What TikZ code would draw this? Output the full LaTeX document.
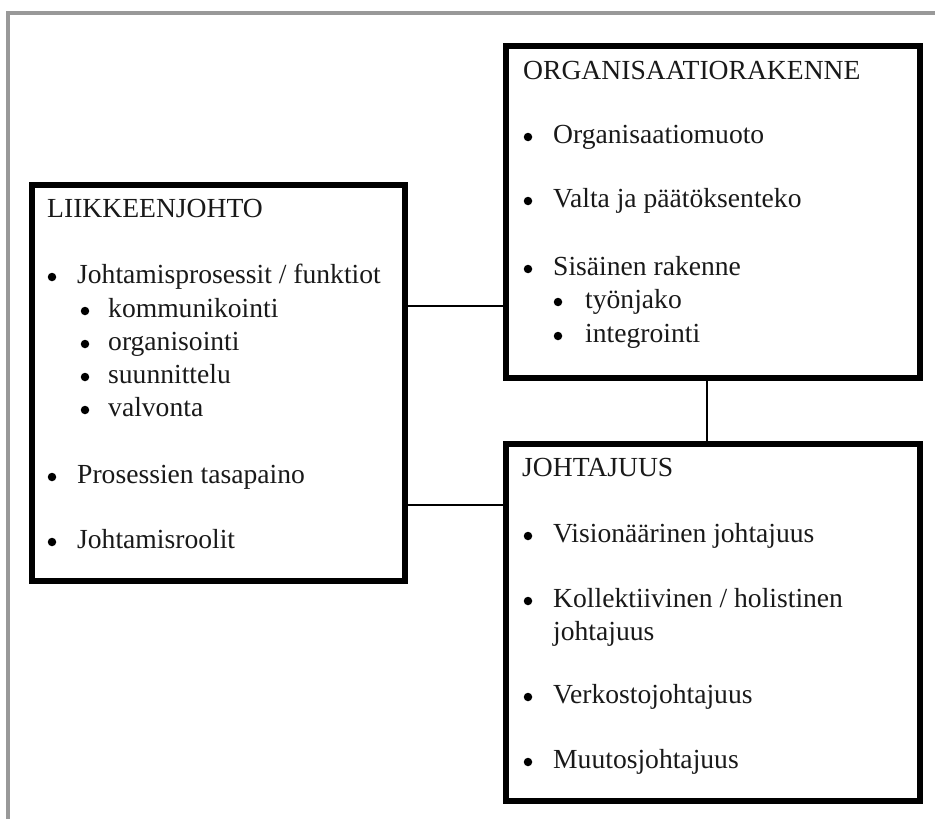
\documentclass[tikz,border=0pt]{standalone}
\usepackage{fontspec}
\setmainfont{Liberation Serif}
\begin{document}
\begin{tikzpicture}[x=1bp,y=-1bp,
  box/.style={draw=black, line width=6bp, inner sep=0pt},
  link/.style={draw=black, line width=1.5bp},
  frameline/.style={draw=black!40, line width=4bp},
  txt/.style={anchor=base west, inner sep=0pt, text=black!90, font=\fontsize{27.6bp}{33bp}\selectfont},
  bul/.style={circle, fill=black, draw=none, inner sep=0pt, minimum size=8.5bp}]
\useasboundingbox (0,0) rectangle (935,819);
% gray frame
\coordinate (f0) at (8,819);
\coordinate (f1) at (8,13);
\coordinate (f2) at (935,13);
\draw[frameline] (f0) -- (f1) -- (f2);
% boxes
\node[box, minimum width=373bp, minimum height=396bp] (L) at (218.5,383) {};
\node[box, minimum width=414bp, minimum height=332bp] (TR) at (713,212) {};
\node[box, minimum width=414bp, minimum height=357bp] (BR) at (713,622.5) {};
% connectors
\coordinate (c1) at (0,306);
\coordinate (c2) at (0,505);
\coordinate (c3) at (707,0);
\draw[link] (c1 -| L.east) -- (c1 -| TR.west);
\draw[link] (c2 -| L.east) -- (c2 -| BR.west);
\draw[link] (c3 |- TR.south) -- (c3 |- BR.north);
% left box text
\node[txt] (l0) at (47,217) {LIIKKEENJOHTO};
\node[bul] (lb1) at (52,277) {};
\node[txt] (l1) at (77,283) {Johtamisprosessit / funktiot};
\node[bul] (lb2) at (85,311) {};
\node[txt] (l2) at (108,317) {kommunikointi};
\node[bul] (lb3) at (85,344) {};
\node[txt] (l3) at (108,350) {organisointi};
\node[bul] (lb4) at (85,377) {};
\node[txt] (l4) at (108,383) {suunnittelu};
\node[bul] (lb5) at (85,410) {};
\node[txt] (l5) at (108,416) {valvonta};
\node[bul] (lb6) at (52,477) {};
\node[txt] (l6) at (77,483) {Prosessien tasapaino};
\node[bul] (lb7) at (52,542) {};
\node[txt] (l7) at (77,548) {Johtamisroolit};
% top right box text
\node[txt] (t0) at (523,80) {ORGANISAATIORAKENNE};
\node[bul] (tb1) at (528,137) {};
\node[txt] (t1) at (553,143) {Organisaatiomuoto};
\node[bul] (tb2) at (528,201) {};
\node[txt] (t2) at (553,207) {Valta ja päätöksenteko};
\node[bul] (tb3) at (528,269) {};
\node[txt] (t3) at (553,275) {Sisäinen rakenne};
\node[bul] (tb4) at (558,302) {};
\node[txt] (t4) at (585,308) {työnjako};
\node[bul] (tb5) at (558,336) {};
\node[txt] (t5) at (585,342) {integrointi};
% bottom right box text
\node[txt] (b0) at (522,476) {JOHTAJUUS};
\node[bul] (bb1) at (528,536) {};
\node[txt] (b1) at (553,542) {Visionäärinen johtajuus};
\node[bul] (bb2) at (528,601) {};
\node[txt] (b2) at (553,607) {Kollektiivinen / holistinen};
\node[txt] (b2b) at (553,640) {johtajuus};
\node[bul] (bb3) at (528,697) {};
\node[txt] (b3) at (553,703) {Verkostojohtajuus};
\node[bul] (bb4) at (528,762) {};
\node[txt] (b4) at (553,768) {Muutosjohtajuus};
\end{tikzpicture}
\end{document}
